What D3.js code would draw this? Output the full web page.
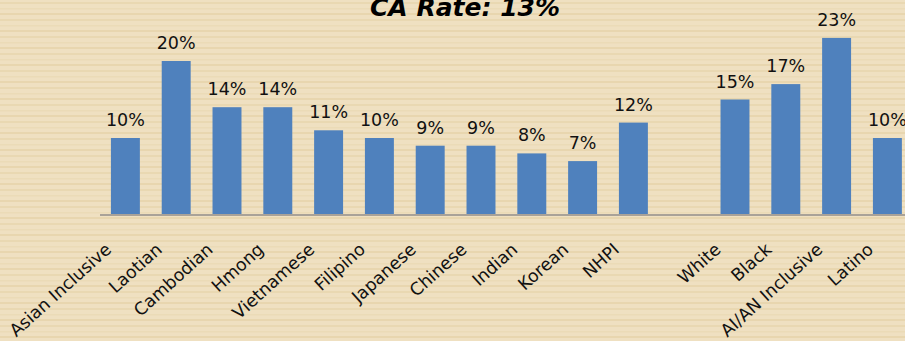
<!DOCTYPE html>
<html>
<head>
<meta charset="utf-8">
<script src="https://cdn.jsdelivr.net/npm/d3@7/dist/d3.min.js"></script>
<style>
  html, body { margin: 0; padding: 0; background: #EFE0C0; }
  svg { display: block; }
</style>
</head>
<body>
<svg id="chart" width="905" height="341"></svg>
<script>
// Rate by group (percent); the empty slot separates the two group sets
const categories = ["Asian Inclusive", "Laotian", "Cambodian", "Hmong", "Vietnamese", "Filipino",
  "Japanese", "Chinese", "Indian", "Korean", "NHPI", "", "White", "Black", "AI/AN Inclusive", "Latino"];
const rates = [10, 20, 14, 14, 11, 10, 9, 9, 8, 7, 12, null, 15, 17, 23, 10];
const titleText = "CA Rate: 13%";

const W = 905, H = 341;
const svg = d3.select("#chart");

// textured paper background: soft horizontal streaks
const defs = svg.append("defs");
const pat = defs.append("pattern")
  .attr("id", "paper").attr("patternUnits", "userSpaceOnUse")
  .attr("width", 8).attr("height", 17);
pat.append("rect").attr("width", 8).attr("height", 17).attr("fill", "#EFE0C1");
pat.append("rect").attr("y", 2).attr("width", 8).attr("height", 2).attr("fill", "#E9D8B2");
pat.append("rect").attr("y", 8).attr("width", 8).attr("height", 1.5).attr("fill", "#EBDBB7");
pat.append("rect").attr("y", 13).attr("width", 8).attr("height", 2).attr("fill", "#E8D6AF");
svg.append("rect").attr("width", W).attr("height", H).attr("fill", "url(#paper)");

const baseY = 215;
const x = d3.scaleBand()
  .domain(categories.map((c, i) => i))
  .range([100, 100 + 50.8 * categories.length])
  .paddingInner(0.43).paddingOuter(0.215);
const y = d3.scaleLinear().domain([0, 25]).range([baseY, baseY - 7.7 * 25]);

const data = categories.map((c, i) => ({ i, name: c, v: rates[i] }));

// bars
svg.append("g").selectAll("rect")
  .data(data.filter(d => d.v != null))
  .join("rect")
  .attr("x", d => x(d.i))
  .attr("y", d => y(d.v))
  .attr("width", x.bandwidth())
  .attr("height", d => y(0) - y(d.v))
  .attr("fill", "#4F81BD");

// category axis
const axis = d3.axisBottom(x).tickSize(0).tickFormat(i => categories[i]);
const gx = svg.append("g").attr("transform", `translate(0,${baseY})`).call(axis);
gx.select(".domain").attr("stroke", "#A9A298").attr("stroke-width", 2)
  .attr("d", `M100,0H${W}`);
gx.selectAll(".tick text")
  .attr("font-family", "DejaVu Sans, sans-serif")
  .attr("font-size", 17.4)
  .attr("fill", "#111")
  .attr("text-anchor", "end")
  .attr("dy", 0)
  .attr("y", 0)
  .attr("transform", "translate(-13,36) rotate(-42)");

// value labels
svg.append("g").selectAll("text")
  .data(data.filter(d => d.v != null))
  .join("text")
  .attr("x", d => x(d.i) + x.bandwidth() / 2)
  .attr("y", d => y(d.v) - 12)
  .attr("text-anchor", "middle")
  .attr("font-family", "DejaVu Sans, sans-serif")
  .attr("font-size", 17.5)
  .attr("fill", "#111")
  .text(d => d.v + "%");

// title, partly clipped by the top edge
svg.append("text")
  .attr("x", 465).attr("y", 16)
  .attr("text-anchor", "middle")
  .attr("font-family", "DejaVu Sans, sans-serif")
  .attr("font-weight", "bold").attr("font-style", "italic")
  .attr("font-size", 25)
  .attr("fill", "#000")
  .text(titleText);
</script>
</body>
</html>
